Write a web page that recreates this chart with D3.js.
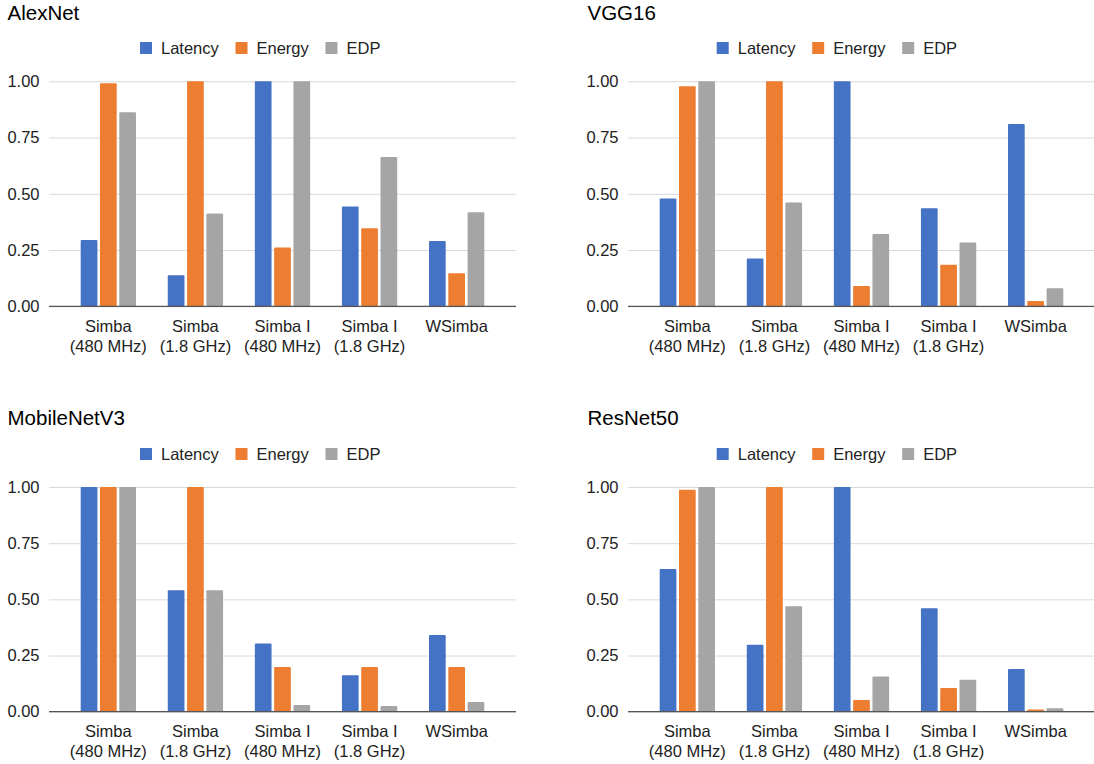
<!DOCTYPE html>
<html>
<head>
<meta charset="utf-8">
<script src="https://cdn.jsdelivr.net/npm/d3@7"></script>
<style>
  html, body { margin: 0; padding: 0; background: #fff; }
  svg { display: block; }
  text { font-family: "Liberation Sans", Arial, sans-serif; }
</style>
</head>
<body>
<svg id="chart" width="1094" height="764"></svg>
<script>
// ---- data ----
const categories = [
  ["Simba", "(480 MHz)"],
  ["Simba", "(1.8 GHz)"],
  ["Simba I", "(480 MHz)"],
  ["Simba I", "(1.8 GHz)"],
  ["WSimba", ""]
];
const seriesNames = ["Latency", "Energy", "EDP"];
const seriesColors = ["#4472c4", "#ed7d31", "#a5a5a5"];
const yTicks = [0, 0.25, 0.5, 0.75, 1.0];

const chartTitles = ["AlexNet", "VGG16", "MobileNetV3", "ResNet50"];

// values per category: [Latency, Energy, EDP]
const alexnetValues = [
  [0.295, 0.991, 0.862],
  [0.138, 1.000, 0.413],
  [1.000, 0.261, 1.000],
  [0.444, 0.347, 0.664],
  [0.290, 0.147, 0.418]
];
const vgg16Values = [
  [0.479, 0.978, 1.000],
  [0.213, 1.000, 0.461],
  [1.000, 0.090, 0.321],
  [0.436, 0.185, 0.284],
  [0.810, 0.024, 0.080]
];
const mobilenetV3Values = [
  [1.000, 1.000, 1.000],
  [0.540, 1.000, 0.540],
  [0.303, 0.199, 0.030],
  [0.162, 0.199, 0.025],
  [0.341, 0.199, 0.043]
];
const resnet50Values = [
  [0.635, 0.988, 1.000],
  [0.298, 1.000, 0.469],
  [1.000, 0.052, 0.157],
  [0.460, 0.105, 0.142],
  [0.190, 0.010, 0.015]
];
const allValues = [alexnetValues, vgg16Values, mobilenetV3Values, resnet50Values];

// ---- layout ----
const panels = [
  { left: 49,  right: 516,  top: 81.3, bottom: 306.3, titleX: 7.5,  titleY: 20,  legendX: 140,   legendY: 48 },
  { left: 628, right: 1095, top: 81.3, bottom: 306.3, titleX: 587.5, titleY: 20,  legendX: 716.7, legendY: 48 },
  { left: 49,  right: 516,  top: 487,  bottom: 711.7, titleX: 7.5,  titleY: 425, legendX: 140,   legendY: 454 },
  { left: 628, right: 1095, top: 487,  bottom: 711.7, titleX: 587.5, titleY: 425, legendX: 716.7, legendY: 454 }
];

const svg = d3.select("#chart");
const FS = 16.5;

panels.forEach((p, i) => {
  const values = allValues[i];
  const g = svg.append("g");

  // title
  g.append("text")
    .attr("x", p.titleX).attr("y", p.titleY)
    .attr("font-size", 20.5).attr("fill", "#000")
    .text(chartTitles[i]);

  // legend
  const leg = g.append("g").attr("transform", `translate(${p.legendX},${p.legendY})`);
  let lx = 0;
  seriesNames.forEach((name, si) => {
    leg.append("rect")
      .attr("x", lx).attr("y", -6).attr("width", 12).attr("height", 12)
      .attr("fill", seriesColors[si]);
    const t = leg.append("text")
      .attr("x", lx + 21).attr("y", 0).attr("dy", "0.35em")
      .attr("font-size", FS).attr("fill", "#222")
      .text(name);
    lx += 21 + t.node().getComputedTextLength() + 16.7;
  });

  // scales
  const y = d3.scaleLinear().domain([0, 1]).range([p.bottom, p.top]);
  const x0 = d3.scaleBand()
    .domain(d3.range(categories.length))
    .range([p.left, p.right])
    .paddingInner(0.365)
    .paddingOuter(0.364);
  const x1 = d3.scaleBand()
    .domain(d3.range(seriesNames.length))
    .range([0, x0.bandwidth()])
    .paddingInner(0.135)
    .paddingOuter(0);

  // gridlines
  const yAxis = d3.axisLeft(y).tickValues(yTicks).tickFormat(d3.format(".2f"))
    .tickSize(-(p.right - p.left)).tickPadding(9.5);
  const ax = g.append("g").attr("transform", `translate(${p.left},0)`).call(yAxis);
  ax.select(".domain").remove();
  ax.selectAll(".tick line").attr("stroke", "#d9d9d9").attr("stroke-width", 1);
  ax.selectAll(".tick text")
    .attr("font-size", FS).attr("fill", "#222")
    .style("font-family", "'Liberation Sans', Arial, sans-serif");

  // bars
  const groups = g.append("g").selectAll("g")
    .data(values).join("g")
    .attr("transform", (d, ci) => `translate(${x0(ci)},0)`);
  groups.selectAll("rect")
    .data(d => d.map((v, si) => ({ v, si })))
    .join("rect")
    .attr("x", d => x1(d.si))
    .attr("width", x1.bandwidth())
    .attr("y", d => y(d.v))
    .attr("height", d => y(0) - y(d.v))
    .attr("rx", 1)
    .attr("fill", d => seriesColors[d.si]);

  // baseline
  g.append("line")
    .attr("x1", p.left).attr("x2", p.right)
    .attr("y1", y(0)).attr("y2", y(0))
    .attr("stroke", "#555").attr("stroke-width", 1.3);

  // category labels
  const xl = g.append("g");
  categories.forEach((c, ci) => {
    const cx = x0(ci) + x0.bandwidth() / 2;
    const t = xl.append("text")
      .attr("x", cx).attr("y", p.bottom + 25.5)
      .attr("text-anchor", "middle")
      .attr("font-size", FS).attr("fill", "#222");
    t.append("tspan").attr("x", cx).text(c[0]);
    if (c[1]) t.append("tspan").attr("x", cx).attr("dy", 20).text(c[1]);
  });
});
</script>
</body>
</html>
